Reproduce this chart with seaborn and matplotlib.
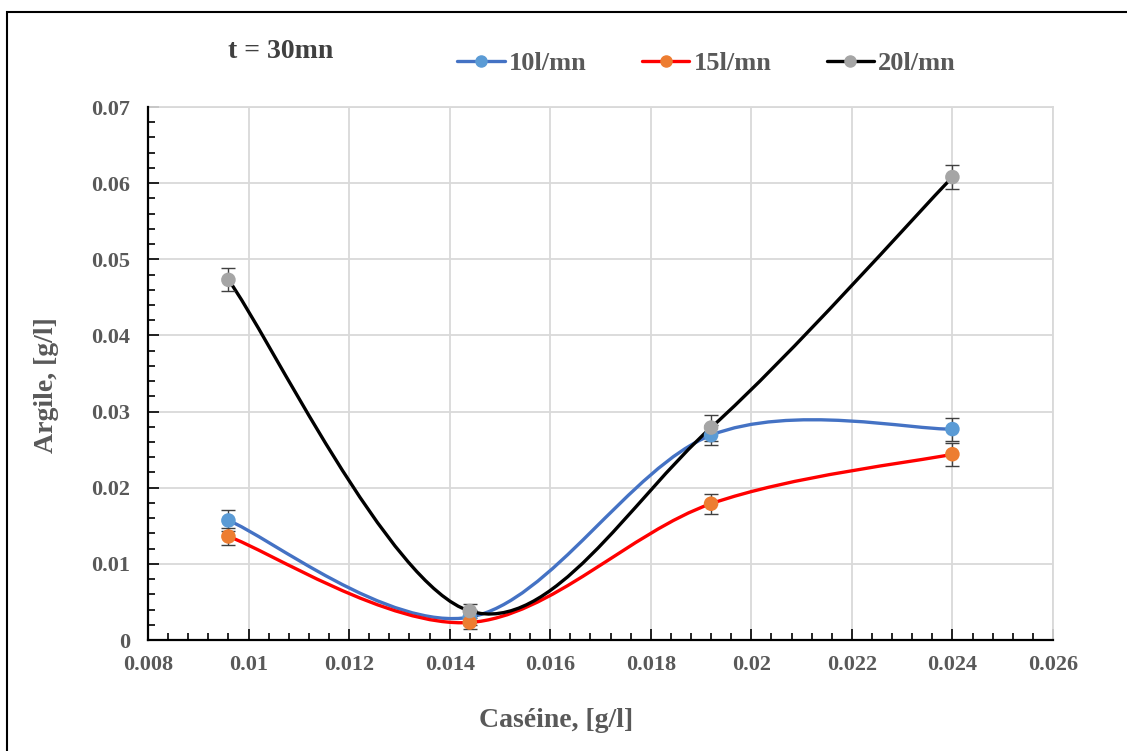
import numpy as np
import pandas as pd
import matplotlib
matplotlib.use("Agg")
import matplotlib.pyplot as plt
import seaborn as sns
from matplotlib.path import Path
from matplotlib.patches import PathPatch, Rectangle
from matplotlib.lines import Line2D
from matplotlib.ticker import MultipleLocator, FuncFormatter

# Data
caseine = [0.0096, 0.0144, 0.0192, 0.024]
argile_10 = [0.0157, 0.0030, 0.0269, 0.0277]
argile_15 = [0.0136, 0.0023, 0.0179, 0.0244]
argile_20 = [0.0473, 0.0038, 0.0279, 0.0608]
err_10 = [0.0014, 0.0010, 0.0013, 0.0015]
err_15 = [0.0011, 0.0008, 0.0013, 0.0015]
err_20 = [0.0015, 0.0009, 0.0017, 0.0016]
series_names = ["10l/mn", "15l/mn", "20l/mn"]

x_ticks = [0.008, 0.01, 0.012, 0.014, 0.016, 0.018, 0.02, 0.022, 0.024, 0.026]
y_ticks = [0, 0.01, 0.02, 0.03, 0.04, 0.05, 0.06, 0.07]

line_colors = ["#4472C4", "#FF0000", "#000000"]
marker_colors = ["#5B9BD5", "#ED7D31", "#A5A5A5"]

sns.set_theme(style="white")
plt.rcParams['font.family'] = ['Liberation Serif', 'DejaVu Serif']
plt.rcParams['font.weight'] = 'bold'

txt_gray = "#595959"


def excel_smooth_path(xs, ys):
    # Excel-like smoothed line: Catmull-Rom style cubic Bezier through the points
    pts = np.column_stack([xs, ys])
    n = len(pts)
    verts = [tuple(pts[0])]
    codes = [Path.MOVETO]
    for i in range(n - 1):
        p0 = pts[max(i - 1, 0)]
        p1 = pts[i]
        p2 = pts[i + 1]
        p3 = pts[min(i + 2, n - 1)]
        c1 = p1 + (p2 - p0) / 6.0
        c2 = p2 - (p3 - p1) / 6.0
        verts += [tuple(c1), tuple(c2), tuple(p2)]
        codes += [Path.CURVE4] * 3
    return Path(verts, codes)


df = pd.DataFrame({
    'Caseine': caseine * 3,
    'Argile': argile_10 + argile_15 + argile_20,
    'err': err_10 + err_15 + err_20,
    'serie': sum([[s] * len(caseine) for s in series_names], []),
})

fig = plt.figure(figsize=(11.27, 7.51), dpi=100)
ax = fig.add_axes([0.1313, 0.1478, 0.8030, 0.7097])

# smooth lines
for name, lc in zip(series_names, line_colors):
    d = df[df['serie'] == name]
    path = excel_smooth_path(d['Caseine'].values, d['Argile'].values)
    ax.add_patch(PathPatch(path, facecolor='none', edgecolor=lc, lw=2.4,
                           zorder=3, capstyle='round'))

# error bars
for name in series_names:
    d = df[df['serie'] == name]
    ax.errorbar(d['Caseine'], d['Argile'], yerr=d['err'], fmt='none',
                ecolor='#404040', elinewidth=1.0, capsize=5, capthick=1.0,
                zorder=4)

# markers
sns.scatterplot(data=df, x='Caseine', y='Argile', hue='serie',
                palette=dict(zip(series_names, marker_colors)), s=110,
                edgecolor='none', legend=False, ax=ax, zorder=5)

ax.set_xlim(0.008, 0.026)
ax.set_ylim(0, 0.07)
ax.set_xticks(x_ticks)
ax.set_yticks(y_ticks)
ax.xaxis.set_minor_locator(MultipleLocator(0.0004))
ax.yaxis.set_minor_locator(MultipleLocator(0.002))
fmt = FuncFormatter(lambda v, p: "%g" % round(v, 6))
ax.xaxis.set_major_formatter(fmt)
ax.yaxis.set_major_formatter(fmt)

ax.grid(True, which='major', color='#d9d9d9', lw=1.3)
ax.set_axisbelow(True)
for s in ['top', 'right']:
    ax.spines[s].set_color('#d9d9d9')
    ax.spines[s].set_linewidth(1.3)
for s in ['left', 'bottom']:
    ax.spines[s].set_color('black')
    ax.spines[s].set_linewidth(1.6)
    ax.spines[s].set_zorder(6)

ax.tick_params(which='both', direction='in', color='black', width=1.2,
               labelsize=16, labelcolor=txt_gray)
ax.tick_params(which='major', length=8)
ax.tick_params(which='minor', length=5)
ax.tick_params(axis='y', which='major', pad=13)
ax.tick_params(axis='x', which='major', pad=11)
ax.tick_params(which='both', top=False, right=False, left=True, bottom=True)
ax.set_xlabel("")
ax.set_ylabel("")

fig.text(0.4933, 0.041, "Caséine, [g/l]", ha='center', va='center',
         fontsize=20, color=txt_gray, fontweight='bold')
fig.text(0.041, 0.487, "Argile, [g/l]", ha='center', va='center',
         rotation=90, fontsize=20, color=txt_gray, fontweight='bold')
fig.text(0.2023, 0.931, "t = 30mn", ha='left', va='center',
         fontsize=20, color='#404040', fontweight='bold')

handles = [Line2D([], [], color=lc, lw=2.4, marker='o', markersize=8,
                  markerfacecolor=mc, markeredgecolor=mc)
           for lc, mc in zip(line_colors, marker_colors)]
ax.legend(handles, series_names, loc='center', bbox_to_anchor=(0.627, 0.916),
          bbox_transform=fig.transFigure, ncol=3, frameon=False,
          handlelength=1.8, handletextpad=0.15, columnspacing=2.1,
          prop={'family': 'Liberation Serif', 'weight': 'bold', 'size': 19},
          labelcolor=txt_gray)

# outer frame of the chart area
fig.patches.append(Rectangle((0.0062, -0.1), 1.2, 0.984 + 0.1,
                             transform=fig.transFigure, fill=False,
                             edgecolor='black', lw=1.5))

fig.savefig('out.png', dpi=100)
